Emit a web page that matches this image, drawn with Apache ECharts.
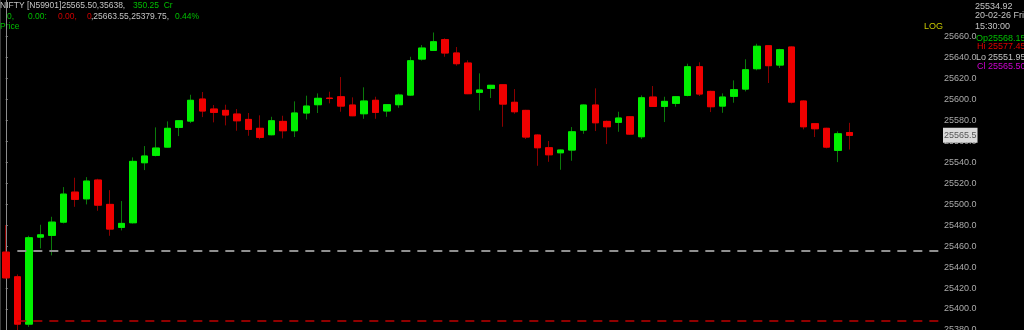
<!DOCTYPE html>
<html>
<head>
<meta charset="utf-8">
<script src="https://cdn.jsdelivr.net/npm/echarts@6/dist/echarts.min.js"></script>
<style>
html,body{margin:0;padding:0;background:#000;}
#chart{width:1024px;height:330px;}
</style>
</head>
<body>
<div id="chart"></div>
<script>
// ---- data ----
const opens  = [25454.2,25430.7,25385.6,25468.5,25470.2,25482.8,25511.4,25505.0,25522.9,25499.7,
                25477.8,25482.2,25539.4,25546.4,25554.3,25573.1,25579.1,25600.1,25590.6,25589.3,
                25585.8,25580.7,25572.2,25566.1,25578.8,25569.9,25586.8,25594.7,25601.0,25602.3,
                25594.4,25586.1,25598.9,25588.7,25594.7,25603.9,25638.2,25646.5,25656.7,25644.0,
                25634.4,25606.5,25610.3,25613.7,25597.0,25589.3,25565.8,25553.7,25548.9,25551.5,
                25570.5,25594.4,25578.8,25577.9,25583.2,25564.2,25602.0,25593.1,25596.0,25603.6,
                25630.9,25607.4,25593.4,25602.7,25609.6,25629.0,25650.9,25632.5,25649.7,25598.2,
                25576.6,25572.2,25551.2,25568.15];
const highs  = [25480.0,25433.0,25469.8,25480.3,25487.9,25516.2,25525.1,25525.7,25524.1,25513.3,
                25502.9,25544.5,25555.3,25573.1,25578.8,25580.0,25604.2,25606.8,25594.4,25594.7,
                25590.6,25586.8,25584.6,25583.2,25584.2,25597.9,25603.3,25605.5,25607.1,25621.1,
                25601.7,25611.3,25602.3,25595.2,25605.2,25640.4,25651.6,25663.55,25658.0,25649.7,
                25637.0,25624.6,25613.6,25614.2,25609.6,25589.8,25566.5,25560.1,25552.0,25573.4,
                25595.0,25610.3,25579.6,25588.0,25583.8,25603.6,25612.5,25602.3,25603.0,25633.8,
                25635.1,25608.0,25605.5,25617.9,25638.0,25652.8,25651.5,25648.0,25650.3,25598.9,
                25577.0,25572.7,25569.3,25577.45];
const lows   = [25429.0,25379.75,25383.0,25457.7,25451.1,25481.6,25497.4,25499.7,25493.6,25469.8,
                25474.9,25481.5,25532.4,25545.5,25554.0,25564.8,25577.2,25582.9,25577.9,25575.0,
                25569.9,25565.1,25561.7,25565.5,25562.6,25563.9,25580.7,25586.8,25596.0,25588.0,
                25583.8,25581.3,25581.3,25583.2,25591.8,25603.0,25636.8,25646.0,25640.4,25631.9,
                25604.8,25589.3,25601.1,25573.7,25586.1,25562.0,25536.5,25540.3,25532.7,25541.3,
                25567.0,25569.6,25557.2,25568.9,25566.0,25562.0,25592.8,25578.2,25592.8,25602.7,
                25603.0,25587.7,25587.0,25596.6,25607.4,25627.5,25615.4,25629.7,25596.0,25571.2,
                25563.9,25553.1,25540.0,25551.95];
const closes = [25429.7,25385.6,25467.9,25470.7,25482.8,25509.5,25504.5,25521.9,25499.0,25476.2,
                25481.6,25540.7,25545.8,25553.4,25572.2,25579.4,25598.9,25588.7,25587.4,25584.9,
                25579.4,25571.2,25563.6,25579.4,25569.9,25586.8,25593.4,25600.8,25600.6,25593.4,
                25584.2,25598.2,25587.4,25594.7,25603.9,25636.6,25648.7,25654.7,25644.0,25633.8,
                25605.2,25608.7,25613.2,25595.3,25588.0,25563.9,25553.7,25547.0,25551.5,25568.9,
                25594.4,25577.5,25573.7,25582.0,25566.7,25601.3,25593.1,25597.9,25602.3,25630.9,
                25604.9,25592.8,25602.0,25609.0,25628.0,25650.4,25631.9,25647.1,25597.2,25573.7,
                25571.8,25554.3,25567.0,25565.50];
const tickValues = [25380,25400,25420,25440,25460,25480,25500,25520,25540,25560,25580,25600,25620,25640,25660];
const refLevels = {grey: 25455.5, red: 25389.0};
const infoTime = ['25534.92', '20-02-26 Fri', '15:30:00'];

// ---- build ----
const n = closes.length;
const full = closes.map((c, i) => [i, opens[i], c, lows[i], highs[i]]);
const bodies = closes.map((c, i) => [i, opens[i], c, Math.min(opens[i], c), Math.max(opens[i], c)]);
const last = n - 1;
const maxHigh = Math.max(...highs), minLow = Math.min(...lows);

const chart = echarts.init(document.getElementById('chart'), null, {renderer: 'canvas'});
const F = 'Liberation Sans, Arial, sans-serif';
const GREY = '#c4c4c4', GREENT = '#00c000', REDT = '#d00000';

function txt(x, y, s, color, size) {
  return {type: 'text', left: x, top: y, silent: true,
    style: {text: s, fill: color, font: (size || 9) + 'px ' + F}};
}

chart.setOption({
  backgroundColor: '#000',
  animation: false,
  grid: {left: 0, right: 82, top: 0, bottom: 0, containLabel: false, outerBoundsMode: 'none'},
  xAxis: {type: 'value', min: -0.5, max: 81, show: false},
  yAxis: {
    type: 'value', position: 'right', min: 25380, max: 25694.5,
    splitLine: {show: false},
    axisLine: {show: true, lineStyle: {color: '#8c8c8c', width: 1}},
    axisTick: {show: true, length: 2, customValues: tickValues, lineStyle: {color: '#8c8c8c'}},
    axisLabel: {show: true, customValues: tickValues, margin: 2, color: '#ababab', fontSize: 9, fontFamily: F,
      formatter: v => v.toFixed(1)}
  },
  series: [
    {
      type: 'candlestick', name: 'wicks', data: full, barWidth: 7, clip: false,
      itemStyle: {color: '#0b7a0b', color0: '#8c0000', borderColor: '#0b7a0b', borderColor0: '#8c0000', borderWidth: 1},
      markLine: {
        silent: true, symbol: ['none', 'none'], label: {show: false},
        data: [
          [{coord: [1, refLevels.grey], lineStyle: {color: '#8f8f8f', width: 2, type: [9, 7]}},
           {coord: [81, refLevels.grey]}],
          [{coord: [1, refLevels.red], lineStyle: {color: '#c00000', width: 1.5, type: [9, 7]}},
           {coord: [81, refLevels.red]}]
        ]
      }
    },
    {
      type: 'candlestick', name: 'bodies', data: bodies, barWidth: 7, clip: false,
      itemStyle: {color: '#00f000', color0: '#f00000', borderColor: '#00f000', borderColor0: '#f00000', borderWidth: 1},
      markLine: {
        silent: true, symbol: ['none', 'none'], z: 10,
        lineStyle: {color: 'rgba(0,0,0,0)', width: 0},
        label: {show: true, position: 'end', distance: 1, formatter: () => closes[last].toFixed(1),
          color: '#555555', backgroundColor: '#dadada', fontSize: 9, fontFamily: F, padding: [2, 1, 4, 1]},
        data: [[{coord: [last, closes[last]]}, {coord: [81, closes[last]]}]]
      }
    }
  ],
  graphic: [
    {type: 'line', silent: true, shape: {x1: 0.5, y1: 0, x2: 0.5, y2: 330}, style: {stroke: '#3a3a3a', lineWidth: 1}},
    txt(0, 1, 'NIFTY [N59901]' + closes[last].toFixed(2) + ',35638,', GREY, 8.5),
    txt(133, 1, '350.25  Cr', GREENT, 8.5),
    txt(7, 12, '0,', GREENT, 8.5),
    txt(28, 12, '0.00:', GREENT, 8.5),
    txt(58, 12, '0.00,', REDT, 8.5),
    txt(87, 12, '0', REDT, 8.5),
    txt(91, 12, ',' + maxHigh.toFixed(2) + ',' + minLow.toFixed(2) + ',', GREY, 8.5),
    txt(175, 12, '0.44%', GREENT, 8.5),
    txt(0, 22, 'Price', GREENT, 8.5),
    txt(924, 22, 'LOG', '#c8c800', 9),
    txt(975, 2, infoTime[0], GREY, 9),
    txt(975, 11, infoTime[1], GREY, 9),
    txt(975, 22, infoTime[2], GREY, 9),
    txt(976, 34, 'Op', '#00c000', 9), txt(988, 34, opens[last].toFixed(2), '#00c000', 9),
    txt(977, 42, 'Hi', '#e00000', 9), txt(988, 42, highs[last].toFixed(2), '#e00000', 9),
    txt(976, 53, 'Lo', GREY, 9), txt(988, 53, lows[last].toFixed(2), GREY, 9),
    txt(977, 62, 'Cl', '#d000d0', 9), txt(988, 62, closes[last].toFixed(2), '#d000d0', 9)
  ]
});
</script>
</body>
</html>
